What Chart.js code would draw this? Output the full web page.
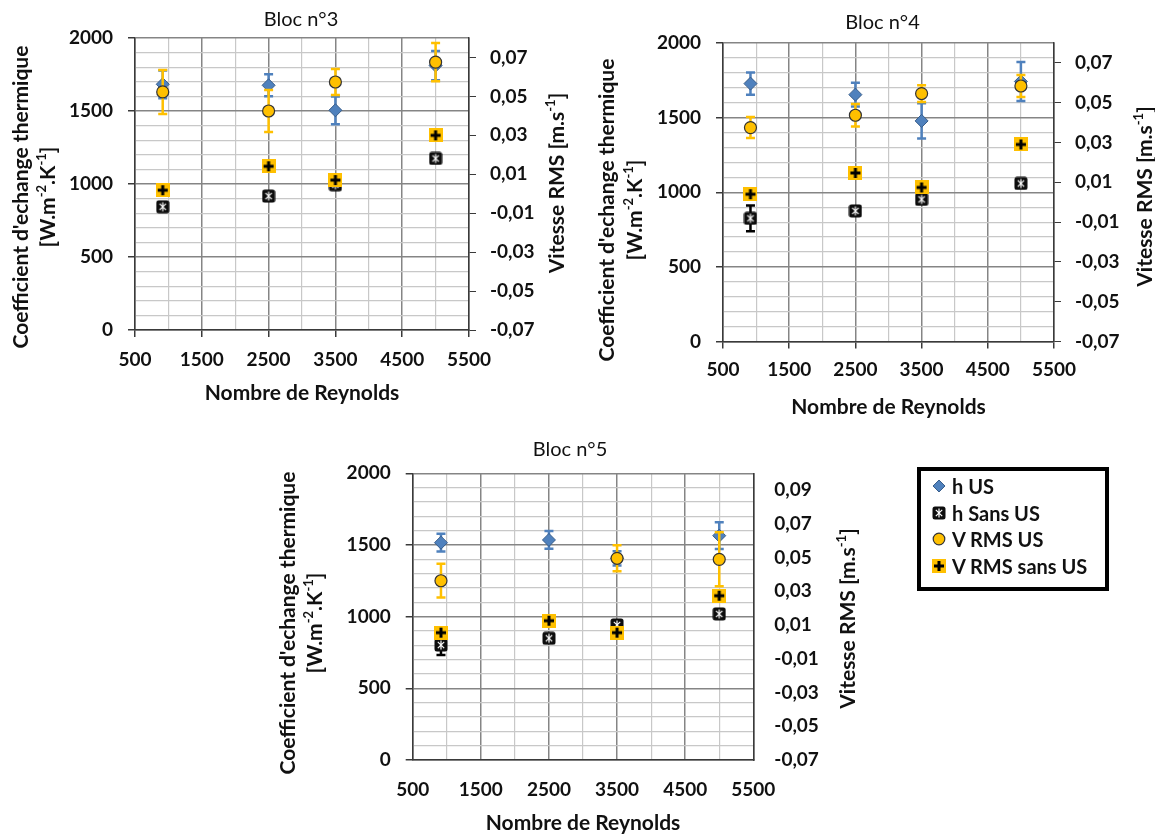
<!DOCTYPE html>
<html>
<head>
<meta charset="utf-8">
<script src="https://cdn.jsdelivr.net/npm/chart.js@4.4.0/dist/chart.umd.min.js"></script>
<style>
  html, body { margin: 0; padding: 0; background: #fff; overflow: hidden; }
  body { width: 1155px; height: 837px; position: relative; font-family: Lato, 'DejaVu Sans', sans-serif; }
  canvas.bloc { position: absolute; }
  #legend { position: absolute; left: 917px; top: 467px; width: 192px; height: 124px; border: 4px solid #000; box-sizing: border-box; padding: 2px 0 0 11px; }
  .item { height: 26.5px; display: flex; align-items: center; font-weight: bold; font-size: 20px; color: #111; white-space: nowrap; }
  .item canvas { margin-right: 6px; }
</style>
</head>
<body>
<canvas class="bloc" id="bloc3" width="580" height="412" style="left:0;top:0"></canvas>
<canvas class="bloc" id="bloc4" width="575" height="426" style="left:580px;top:0"></canvas>
<canvas class="bloc" id="bloc5" width="600" height="412" style="left:270px;top:430px"></canvas>
<div id="legend"></div>
<script>
// Reynolds numbers of the four runs
let reynolds = [915, 2500, 3500, 5000];
let reTickLabels = [500, 1500, 2500, 3500, 4500, 5500];
let hTickLabels = [0, 500, 1000, 1500, 2000];
let vTicks = [-0.07, -0.05, -0.03, -0.01, 0.01, 0.03, 0.05, 0.07];
let vTicksBloc5 = [-0.07, -0.05, -0.03, -0.01, 0.01, 0.03, 0.05, 0.07, 0.09];

let seriesNames = ['h US', 'h Sans US', 'V RMS US', 'V RMS sans US'];

// Bloc n°3
let b3HUs = [1683, 1676, 1505, 1811];
let b3HUsErr = [95, 75, 95, 100];
let b3HSans = [844, 917, 995, 1175];
let b3HSansErr = [0, 0, 0, 0];
let b3VUs = [0.0523, 0.0425, 0.0574, 0.0676];
let b3VUsErr = [0.0113, 0.0108, 0.0067, 0.0098];
let b3VSans = [0.0018, 0.0141, 0.007, 0.03];

// Bloc n°4
let b4HUs = [1728, 1654, 1478, 1742];
let b4HUsErr = [75, 80, 118, 130];
let b4HSans = [825, 875, 952, 1059];
let b4HSansErr = [86, 0, 0, 0];
let b4VUs = [0.0375, 0.0437, 0.0546, 0.0584];
let b4VUsErr = [0.0053, 0.0057, 0.0042, 0.0055];
let b4VSans = [0.004, 0.0147, 0.0074, 0.029];

// Bloc n°5
let b5HUs = [1516, 1535, 1407, 1565];
let b5HUsErr = [62, 62, 50, 93];
let b5HSans = [802, 849, 942, 1019];
let b5HSansErr = [70, 0, 0, 0];
let b5VUs = [0.0363, null, 0.0496, 0.049];
let b5VUsErr = [0.01, 0, 0.0077, 0.016];
let b5VSans = [0.0055, 0.0126, 0.0055, 0.0274];

Chart.defaults.font.family = 'Lato';

let blue = '#4F81BD';
let gold = '#FFC000';
let majorGrid = '#858585';
let minorGrid = '#c8c8c8';
let axisColor = '#3a3a3a';
let textColor = '#111';

let makeIcon = (size, draw) => {
  let c = document.createElement('canvas');
  c.width = size;
  c.height = size;
  draw(c.getContext('2d'), size);
  return c;
};

let hSansIcon = makeIcon(14, (g) => {
  g.fillStyle = '#0d0d0d';
  g.beginPath();
  g.roundRect(0.5, 0.5, 13, 13, 2.5);
  g.fill();
  g.strokeStyle = '#fff';
  g.lineWidth = 1.2;
  g.beginPath();
  g.moveTo(7, 2.5); g.lineTo(7, 11.5);
  g.moveTo(3.8, 3.8); g.lineTo(10.2, 10.2);
  g.moveTo(10.2, 3.8); g.lineTo(3.8, 10.2);
  g.stroke();
});

let vSansIcon = makeIcon(14, (g) => {
  g.fillStyle = gold;
  g.fillRect(0, 0, 14, 14);
  g.fillStyle = '#000';
  g.fillRect(2, 5.5, 10, 3);
  g.fillRect(5.5, 2, 3, 10);
});

let diamondIcon = makeIcon(14, (g) => {
  g.fillStyle = blue;
  g.strokeStyle = '#385D8A';
  g.beginPath();
  g.moveTo(7, 1); g.lineTo(13, 7); g.lineTo(7, 13); g.lineTo(1, 7);
  g.closePath();
  g.fill();
  g.stroke();
});

let circleIcon = makeIcon(14, (g) => {
  g.fillStyle = gold;
  g.strokeStyle = '#333';
  g.lineWidth = 1.2;
  g.beginPath();
  g.arc(7, 7, 5.8, 0, Math.PI * 2);
  g.fill();
  g.stroke();
});

// error bars drawn just under their own markers
let errorBars = {
  id: 'errorBars',
  beforeDatasetDraw(chart, args) {
    let ds = chart.data.datasets[args.index];
    if (!ds.errors) return;
    let xScale = chart.scales[args.meta.xAxisID];
    let yScale = chart.scales[args.meta.yAxisID];
    let ctx = chart.ctx;
    ctx.save();
    ctx.strokeStyle = ds.errorColor;
    ctx.lineWidth = 2.5;
    ds.data.forEach((pt, i) => {
      let err = ds.errors[i];
      if (pt.y === null || !err) return;
      let x = xScale.getPixelForValue(pt.x);
      let yTop = yScale.getPixelForValue(pt.y + err);
      let yBot = yScale.getPixelForValue(pt.y - err);
      ctx.beginPath();
      ctx.moveTo(x, yTop); ctx.lineTo(x, yBot);
      ctx.moveTo(x - 4.5, yTop); ctx.lineTo(x + 4.5, yTop);
      ctx.moveTo(x - 4.5, yBot); ctx.lineTo(x + 4.5, yBot);
      ctx.stroke();
    });
    ctx.restore();
  },
};

let drawRich = (ctx, parts, cx, cy, rotate) => {
  let base = 'bold 21px Lato';
  let sup = 'bold 13px Lato';
  let total = 0;
  parts.forEach((p) => {
    ctx.font = p.sup ? sup : base;
    total += ctx.measureText(p.t).width;
  });
  ctx.save();
  ctx.translate(cx, cy);
  if (rotate) ctx.rotate(-Math.PI / 2);
  ctx.textAlign = 'left';
  ctx.textBaseline = 'middle';
  let x = -total / 2;
  parts.forEach((p) => {
    ctx.font = p.sup ? sup : base;
    ctx.fillText(p.t, x, p.sup ? -6 : 0);
    x += ctx.measureText(p.t).width;
  });
  ctx.restore();
};

let leftLine1 = [{ t: "Coefficient d'echange thermique" }];
let leftLine2 = [{ t: '[W.m' }, { t: '-2', sup: true }, { t: '.K' }, { t: '-1', sup: true }, { t: ']' }];
let rightTitle = [{ t: 'Vitesse RMS [m.s' }, { t: '-1', sup: true }, { t: ']' }];

// chart title and the two vertical axis titles
let sideTitles = {
  id: 'sideTitles',
  afterDraw(chart, args, opts) {
    let ctx = chart.ctx;
    ctx.save();
    ctx.fillStyle = textColor;
    ctx.textAlign = 'center';
    ctx.textBaseline = 'middle';
    ctx.font = '20px Lato';
    ctx.fillText(opts.title, opts.titleX, opts.titleY);
    drawRich(ctx, leftLine1, opts.leftX[0], opts.leftY, true);
    drawRich(ctx, leftLine2, opts.leftX[1], opts.leftY, true);
    drawRich(ctx, rightTitle, opts.rightX, opts.rightY, true);
    ctx.restore();
  },
};

let toPoints = (values) => reynolds.map((re, i) => ({ x: re, y: values[i] }));

let makeBloc = (id, d, box, titles) => {
  let ctx = document.getElementById(id).getContext('2d');

  let datasets = [
    {
      label: seriesNames[0],
      data: toPoints(d.hUs),
      errors: d.hUsErr,
      errorColor: blue,
      yAxisID: 'y',
      order: 4,
      pointStyle: 'rectRot',
      pointRadius: 6.5,
      backgroundColor: blue,
      borderColor: '#385D8A',
      borderWidth: 1,
    },
    {
      label: seriesNames[1],
      data: toPoints(d.hSans),
      errors: d.hSansErr,
      errorColor: '#000',
      yAxisID: 'y',
      order: 3,
      pointStyle: hSansIcon,
    },
    {
      label: seriesNames[2],
      data: toPoints(d.vUs),
      errors: d.vUsErr,
      errorColor: gold,
      yAxisID: 'y1',
      order: 2,
      pointStyle: 'circle',
      pointRadius: 6,
      backgroundColor: gold,
      borderColor: '#333',
      borderWidth: 1.2,
    },
    {
      label: seriesNames[3],
      data: toPoints(d.vSans),
      yAxisID: 'y1',
      order: 1,
      pointStyle: vSansIcon,
    },
  ];

  let tickFont = { size: 19, weight: 'bold' };

  new Chart(ctx, {
    type: 'scatter',
    data: { datasets: datasets },
    options: {
      responsive: false,
      animation: false,
      layout: { padding: { top: box.top, left: 0, right: 0, bottom: 0 } },
      plugins: {
        legend: { display: false },
        tooltip: { enabled: false },
        title: { display: false },
        sideTitles: titles,
      },
      scales: {
        x: {
          type: 'linear',
          min: 500,
          max: 5500,
          ticks: {
            stepSize: 500,
            autoSkip: false,
            maxRotation: 0,
            padding: box.xPad,
            color: textColor,
            font: tickFont,
            callback: (v) => (reTickLabels.includes(v) ? v : ''),
          },
          grid: {
            color: (c) => (reTickLabels.includes(c.tick.value) ? majorGrid : minorGrid),
            lineWidth: (c) => (reTickLabels.includes(c.tick.value) ? 1.5 : 1.2),
            tickLength: 7,
            tickColor: (c) =>
              box.xMarks && reTickLabels.includes(c.tick.value) ? axisColor : 'rgba(0,0,0,0)',
          },
          border: { color: axisColor, width: 1.5 },
          title: {
            display: true,
            text: 'Nombre de Reynolds',
            color: textColor,
            font: { size: 21, weight: 'bold' },
            padding: { top: 0, bottom: 6.4 },
          },
          afterFit: (s) => {
            s.height = box.xHeight;
          },
        },
        y: {
          position: 'left',
          min: 0,
          max: 2000,
          ticks: {
            stepSize: 100,
            autoSkip: false,
            padding: 15,
            color: textColor,
            font: tickFont,
            callback: (v) => (hTickLabels.includes(v) ? v : ''),
          },
          grid: {
            color: (c) => (hTickLabels.includes(c.tick.value) ? majorGrid : minorGrid),
            lineWidth: (c) => (hTickLabels.includes(c.tick.value) ? 1.5 : 1.2),
            tickLength: 7,
            tickColor: (c) => (hTickLabels.includes(c.tick.value) ? axisColor : 'rgba(0,0,0,0)'),
          },
          border: { color: axisColor, width: 1.5 },
          afterFit: (s) => {
            s.width = box.left;
          },
        },
        y1: {
          position: 'right',
          min: -0.07,
          max: d.vMax,
          afterBuildTicks: (s) => {
            s.ticks = d.vTicks.map((v) => ({ value: v }));
          },
          ticks: {
            padding: 14,
            color: textColor,
            font: tickFont,
            callback: (v) => v.toFixed(2).replace('.', ','),
          },
          grid: {
            drawOnChartArea: false,
            tickLength: 7,
            tickColor: box.rightMarks ? axisColor : 'rgba(0,0,0,0)',
          },
          border: { color: axisColor, width: 1.5 },
          afterFit: (s) => {
            s.width = box.right;
          },
        },
      },
    },
    plugins: [errorBars, sideTitles],
  });
};

makeBloc(
  'bloc3',
  {
    hUs: b3HUs, hUsErr: b3HUsErr, hSans: b3HSans, hSansErr: b3HSansErr,
    vUs: b3VUs, vUsErr: b3VUsErr, vSans: b3VSans, vMax: 0.08, vTicks: vTicks,
  },
  { top: 38, left: 135, right: 111, xHeight: 82, xPad: 11.6, xMarks: true, rightMarks: true },
  { title: 'Bloc n°3', titleX: 301, titleY: 20, leftX: [21, 48], leftY: 197, rightX: 557, rightY: 183 }
);

makeBloc(
  'bloc4',
  {
    hUs: b4HUs, hUsErr: b4HUsErr, hSans: b4HSans, hSansErr: b4HSansErr,
    vUs: b4VUs, vUsErr: b4VUsErr, vSans: b4VSans, vMax: 0.08, vTicks: vTicks,
  },
  { top: 43, left: 143, right: 101, xHeight: 84.5, xPad: 10.1, xMarks: true, rightMarks: true },
  { title: 'Bloc n°4', titleX: 302.5, titleY: 23, leftX: [27.5, 55], leftY: 210, rightX: 565, rightY: 196.5 }
);

makeBloc(
  'bloc5',
  {
    hUs: b5HUs, hUsErr: b5HUsErr, hSans: b5HSans, hSansErr: b5HSansErr,
    vUs: b5VUs, vUsErr: b5VUsErr, vSans: b5VSans, vMax: 0.1, vTicks: vTicksBloc5,
  },
  { top: 43.3, left: 142.7, right: 116.7, xHeight: 82, xPad: 11.6, xMarks: false, rightMarks: false },
  { title: 'Bloc n°5', titleX: 300, titleY: 20, leftX: [18, 45], leftY: 193, rightX: 578, rightY: 188.5 }
);

// legend box
let legend = document.getElementById('legend');
let legendIcons = [diamondIcon, hSansIcon, circleIcon, vSansIcon];
seriesNames.forEach((name, i) => {
  let row = document.createElement('div');
  row.className = 'item';
  row.appendChild(legendIcons[i]);
  row.appendChild(document.createTextNode(name));
  legend.appendChild(row);
});
</script>
</body>
</html>
